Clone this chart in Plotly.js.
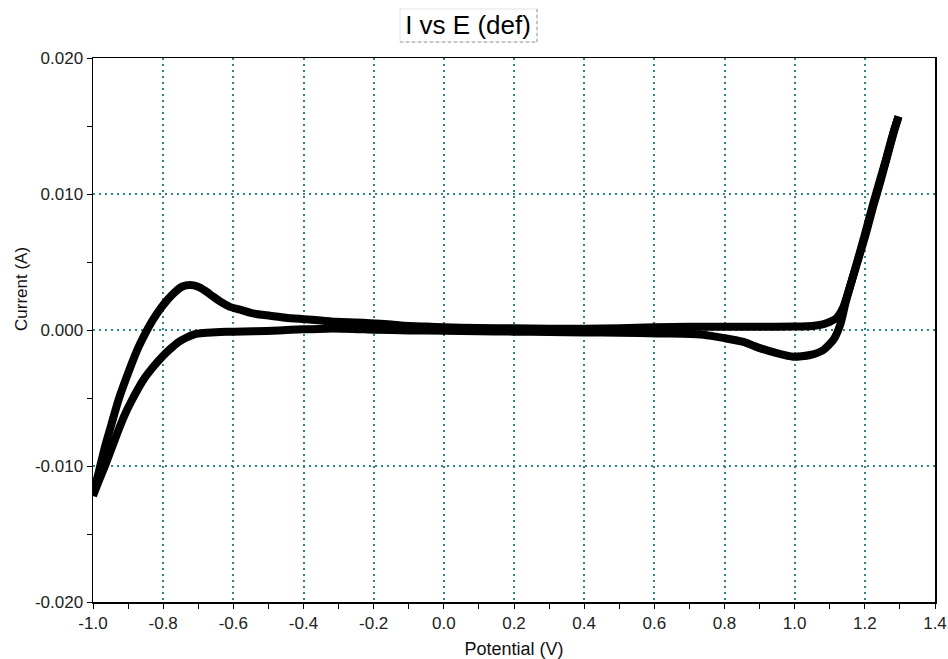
<!DOCTYPE html>
<html>
<head>
<meta charset="utf-8">
<script src="https://cdn.plot.ly/plotly-3.0.1.min.js"></script>
<style>
html,body{margin:0;padding:0;background:#fff;}
#chart{width:948px;height:659px;}
</style>
</head>
<body>
<div id="chart"></div>
<script>
// Forward sweep (-1.0 V -> +1.3 V)
const fwdPotential = [-1.000,-0.985,-0.966,-0.947,-0.928,-0.909,-0.890,-0.871,-0.852,-0.828,-0.804,-0.785,-0.766,-0.745,-0.723,-0.702,-0.681,-0.660,-0.638,-0.610,-0.581,-0.540,-0.495,-0.450,-0.400,-0.350,-0.305,-0.250,-0.210,-0.150,-0.115,-0.050,0.000,0.100,0.200,0.300,0.400,0.500,0.600,0.700,0.800,0.900,1.000,1.050,1.080,1.100,1.120,1.139,1.158,1.177,1.201,1.224,1.243,1.262,1.281,1.296];
const fwdCurrent = [-0.0121,-0.0106,-0.0086,-0.0069,-0.0052,-0.0038,-0.0025,-0.0013,-0.0003,0.0008,0.0017,0.0023,0.0028,0.0032,0.0033,0.0032,0.0029,0.0025,0.0021,0.0017,0.0015,0.0012,0.00105,0.0009,0.0008,0.0007,0.0006,0.00055,0.0005,0.0004,0.00032,0.00025,0.0002,0.00015,0.00012,0.0001,0.0001,0.00012,0.0002,0.00024,0.00024,0.00024,0.00026,0.0003,0.00042,0.0006,0.0009,0.0017,0.0032,0.0049,0.0071,0.0093,0.0110,0.0127,0.0145,0.0157];

// Reverse sweep (+1.3 V -> -1.0 V)
const revPotential = [1.296,1.281,1.262,1.243,1.224,1.201,1.180,1.160,1.145,1.130,1.111,1.082,1.044,0.996,0.949,0.901,0.854,0.800,0.740,0.680,0.613,0.500,0.400,0.300,0.200,0.100,0.000,-0.100,-0.200,-0.258,-0.334,-0.400,-0.470,-0.543,-0.600,-0.638,-0.662,-0.685,-0.709,-0.733,-0.757,-0.780,-0.804,-0.828,-0.852,-0.871,-0.890,-0.909,-0.928,-0.947,-0.966,-0.985,-1.000];
const revCurrent = [0.0157,0.0144,0.0126,0.0108,0.0091,0.0069,0.0051,0.0034,0.0020,0.0004,-0.0007,-0.00147,-0.00184,-0.00196,-0.0017,-0.00133,-0.00088,-0.0006,-0.00035,-0.00028,-0.00025,-0.0002,-0.00018,-0.00015,-0.00012,-0.0001,-0.00005,-0.00003,0.00002,0.00008,0.0001,0.00005,-0.00003,-0.0001,-0.00012,-0.00015,-0.00018,-0.00022,-0.0003,-0.00055,-0.0009,-0.0014,-0.0020,-0.0027,-0.0035,-0.0043,-0.0052,-0.0062,-0.0074,-0.0087,-0.0100,-0.0112,-0.0122];

// Tick labels
const xTickVals = [-1.0,-0.8,-0.6,-0.4,-0.2,0.0,0.2,0.4,0.6,0.8,1.0,1.2,1.4];
const xTickText = ["-1.0","-0.8","-0.6","-0.4","-0.2","0.0","0.2","0.4","0.6","0.8","1.0","1.2","1.4"];
const yTickVals = [-0.02,-0.01,0,0.01,0.02];
const yTickText = ["-0.020","-0.010","0.000","0.010","0.020"];

const chartTitle = "I vs E (def)";
const xTitle = "Potential (V)";
const yTitle = "Current (A)";

const lineStyle = {color:'#000000', width:8, shape:'spline', smoothing:0.6};
const traces = [
  {x: fwdPotential, y: fwdCurrent, mode:'lines', line: lineStyle, hoverinfo:'x+y', showlegend:false},
  {x: revPotential, y: revCurrent, mode:'lines', line: lineStyle, hoverinfo:'x+y', showlegend:false}
];

const gridColor = '#2f8686';
const fontFam = '"Liberation Sans", Arial, sans-serif';

const layout = {
  width:948, height:659,
  margin:{l:93, r:13, t:58, b:57},
  paper_bgcolor:'#ffffff', plot_bgcolor:'#ffffff',
  font:{family:fontFam, color:'#111111', size:17},
  showlegend:false,
  title:{text:chartTitle, x:468/948, xref:'container', xanchor:'center', y:1-25/659, yref:'container', yanchor:'middle', font:{family:fontFam, size:26, color:'#000000'}},
  xaxis:{
    range:[-1.0,1.4], autorange:false,
    tickmode:'array', tickvals:xTickVals, ticktext:xTickText,
    ticks:'outside', ticklen:5, tickwidth:1, tickcolor:'#000',
    minor:{tickmode:'linear', tick0:-1.0, dtick:0.1, ticks:'outside', ticklen:5, tickwidth:1, tickcolor:'#000', showgrid:false},
    showline:true, linecolor:'#000', linewidth:1.5, mirror:true,
    showgrid:true, gridcolor:gridColor, gridwidth:2, griddash:'2px,4px',
    zeroline:false,
    tickfont:{size:17, color:'#222'},
    title:{text:xTitle, standoff:12, font:{size:18, color:'#111'}},
    automargin:false
  },
  yaxis:{
    range:[-0.02,0.02], autorange:false,
    tickmode:'array', tickvals:yTickVals, ticktext:yTickText,
    ticks:'outside', ticklen:5, tickwidth:1, tickcolor:'#000',
    minor:{tickmode:'linear', tick0:0, dtick:0.005, ticks:'outside', ticklen:5, tickwidth:1, tickcolor:'#000', showgrid:false},
    showline:true, linecolor:'#000', linewidth:1.5, mirror:true,
    showgrid:true, gridcolor:gridColor, gridwidth:2, griddash:'2px,4px',
    zeroline:false,
    tickfont:{size:17, color:'#222'},
    automargin:false
  },
  annotations:[
    {text:yTitle, xref:'paper', yref:'paper', x:(21-93)/842, y:(602-289)/544, xanchor:'center', yanchor:'middle', textangle:-90, showarrow:false, font:{family:fontFam, size:17, color:'#111'}}
  ],
  shapes:[
    {type:'rect', xref:'paper', yref:'paper', x0:(400-93)/842, x1:(537-93)/842, y0:(602-42)/544, y1:(602-9)/544, line:{color:'#e4e4e4', width:1}, layer:'below'},
    {type:'line', xref:'paper', yref:'paper', x0:(537-93)/842, x1:(537-93)/842, y0:(602-42)/544, y1:(602-9)/544, line:{color:'#9a9a9a', width:1, dash:'dot'}},
    {type:'line', xref:'paper', yref:'paper', x0:(400-93)/842, x1:(537-93)/842, y0:(602-42)/544, y1:(602-42)/544, line:{color:'#9a9a9a', width:1, dash:'dot'}}
  ]
};

Plotly.newPlot('chart', traces, layout, {displayModeBar:false, staticPlot:true});
</script>
</body>
</html>
